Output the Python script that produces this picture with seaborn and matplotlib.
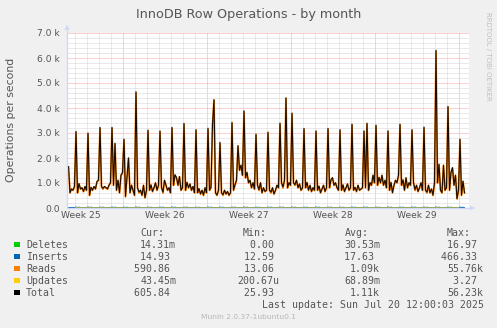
import itertools

import numpy as np
import pandas as pd
import matplotlib
matplotlib.use("Agg")
import matplotlib.pyplot as plt
import matplotlib.dates as mdates
import matplotlib.transforms as mtransforms
from matplotlib.patches import Polygon, Rectangle
import seaborn as sns

sns.set_style("white")
plt.rcParams["font.family"] = ["DejaVu Sans"]

# ---------------------------------------------------------------- data
# 3-hourly samples from Jun 17 11:00 to Jul 20 11:00 (rows = one day,
# slots 02,05,08,11,14,17,20,23 h; first and last rows are partial days)
sample_times = pd.date_range("2025-06-17 11:00", "2025-07-20 11:00", freq="3h")

reads_by_day = [
    [1650, 600, 750, 700, 850],
    [3030, 600, 950, 750, 800, 650, 850, 700],
    [2960, 500, 800, 700, 850, 750, 1050, 1100],
    [3190, 850, 750, 850, 800, 750, 900, 1000],
    [3190, 900, 2560, 700, 1100, 600, 1300, 1400],
    [2720, 450, 1200, 1990, 600, 900, 700, 500],
    [4610, 800, 600, 700, 500, 900, 400, 700],
    [3080, 700, 900, 650, 800, 1000, 700, 900],
    [3050, 800, 600, 1100, 900, 700, 800, 600],
    [3190, 900, 1300, 1200, 900, 1250, 700, 800],
    [3350, 700, 1000, 800, 950, 700, 850, 600],
    [3100, 600, 750, 550, 700, 500, 800, 600],
    [3150, 700, 800, 3320, 4320, 600, 500, 700],
    [2590, 600, 500, 700, 550, 650, 500, 600],
    [3390, 700, 900, 1100, 2480, 1500, 1700, 1300],
    [3850, 1200, 1400, 1000, 1100, 800, 1000, 750],
    [2920, 900, 700, 1000, 600, 800, 650, 700],
    [3000, 700, 600, 800, 550, 700, 900, 800],
    [3360, 1000, 800, 1100, 4390, 800, 1000, 900],
    [3760, 1000, 900, 1100, 800, 950, 700, 800],
    [3150, 800, 1000, 700, 900, 650, 800, 700],
    [3050, 700, 850, 600, 750, 900, 650, 800],
    [3150, 800, 1100, 1200, 900, 1000, 800, 700],
    [3100, 700, 900, 650, 800, 950, 700, 800],
    [3320, 700, 800, 650, 900, 700, 750, 800],
    [3050, 800, 3360, 700, 1000, 900, 1300, 1000],
    [3280, 900, 1200, 1000, 1300, 900, 1100, 800],
    [3050, 700, 1000, 600, 900, 1100, 1000, 1300],
    [3320, 900, 1100, 700, 1200, 800, 1000, 900],
    [3100, 1000, 700, 900, 650, 800, 1000, 700],
    [3200, 700, 600, 900, 600, 750, 500, 1000],
    [6270, 1000, 1720, 700, 600, 1700, 700, 800],
    [4030, 700, 1400, 1600, 900, 1300, 360, 700],
    [2720, 500, 1050, 591],
]

inserts_by_day = [
    [14, 15, 13, 14, 15],
    [38, 14, 33, 15, 14, 13, 15, 14],
    [41, 15, 36, 14, 13, 15, 14, 15],
    [37, 13, 34, 15, 14, 14, 13, 15],
    [40, 14, 35, 13, 15, 14, 15, 14],
    [36, 15, 32, 14, 13, 15, 14, 13],
    [42, 14, 37, 15, 14, 13, 15, 14],
    [39, 13, 33, 14, 15, 14, 13, 15],
    [38, 15, 35, 13, 14, 15, 14, 14],
    [40, 14, 34, 15, 13, 14, 15, 13],
    [37, 15, 36, 14, 15, 13, 14, 15],
    [36, 13, 31, 15, 14, 15, 13, 14],
    [41, 14, 35, 14, 13, 14, 15, 15],
    [38, 15, 33, 13, 15, 14, 14, 13],
    [39, 14, 36, 15, 14, 13, 15, 14],
    [42, 13, 34, 14, 15, 15, 13, 15],
    [37, 15, 32, 15, 13, 14, 14, 14],
    [38, 14, 35, 13, 14, 15, 15, 13],
    [40, 15, 37, 14, 15, 13, 14, 15],
    [39, 13, 33, 15, 14, 14, 13, 14],
    [36, 14, 34, 14, 13, 15, 15, 15],
    [41, 15, 35, 13, 15, 14, 14, 13],
    [38, 14, 36, 15, 14, 13, 15, 14],
    [37, 13, 32, 14, 13, 15, 14, 15],
    [40, 15, 34, 15, 15, 14, 13, 14],
    [39, 14, 37, 13, 14, 15, 15, 13],
    [38, 15, 33, 14, 15, 13, 14, 15],
    [42, 13, 35, 15, 13, 14, 15, 14],
    [37, 14, 34, 14, 15, 15, 13, 15],
    [39, 15, 36, 13, 14, 14, 14, 13],
    [40, 14, 33, 15, 13, 15, 15, 14],
    [41, 13, 35, 14, 15, 13, 14, 15],
    [38, 15, 34, 15, 14, 14, 13, 14],
    [37, 14, 32, 15],
]

reads = list(itertools.chain.from_iterable(reads_by_day))
inserts = list(itertools.chain.from_iterable(inserts_by_day))

# deletes / updates stay far below 1 op/s; daily samples
daily_times = pd.date_range("2025-06-18", "2025-07-20", freq="D")
deletes = [0.02, 0.05, 0.01, 0.03, 0.04, 0.02, 0.06, 0.01, 0.03, 0.02, 0.05,
           0.04, 0.01, 0.03, 0.02, 0.06, 0.03, 0.02, 0.04, 0.01, 0.05, 0.03,
           0.02, 0.04, 0.03, 0.01, 0.02, 0.05, 0.03, 0.04, 0.02, 0.03, 0.01]
updates = [0.07, 0.05, 0.09, 0.06, 0.08, 0.07, 0.05, 0.10, 0.06, 0.07, 0.08,
           0.05, 0.06, 0.09, 0.07, 0.06, 0.08, 0.05, 0.07, 0.09, 0.06, 0.07,
           0.08, 0.05, 0.06, 0.07, 0.09, 0.06, 0.05, 0.08, 0.07, 0.06, 0.04]

total = np.array(reads, dtype=float) + np.array(inserts, dtype=float)

df = pd.DataFrame({"time": sample_times, "reads": reads,
                   "inserts": inserts, "total": total})
df_daily = pd.DataFrame({"time": daily_times, "deletes": deletes,
                         "updates": updates})

series_names = ["Deletes", "Inserts", "Reads", "Updates", "Total"]
series_colors = ["#00CC00", "#0066B3", "#FF8000", "#FFCC00", "#000000"]
cur_vals = ["14.31m", "14.93", "590.86", "43.45m", "605.84"]
min_vals = ["0.00", "12.59", "13.06", "200.67u", "25.93"]
avg_vals = ["30.53m", "17.63", "1.09k", "68.89m", "1.11k"]
max_vals = ["16.97", "466.33", "55.76k", "3.27", "56.23k"]

y_ticks = [0, 1000, 2000, 3000, 4000, 5000, 6000, 7000]
y_tick_labels = ["0.0", "1.0 k", "2.0 k", "3.0 k", "4.0 k", "5.0 k", "6.0 k", "7.0 k"]

title = "InnoDB Row Operations - by month"
y_title = "Operations per second"
last_update = "Last update: Sun Jul 20 12:00:03 2025"
footer = "Munin 2.0.37-1ubuntu0.1"
side_note = "RRDTOOL / TOBI OETIKER"

# ---------------------------------------------------------------- figure
W, H = 497, 328
BG = "#F0F0F0"
FONT_C = "#555555"
fig = plt.figure(figsize=(W / 100, H / 100), dpi=100, facecolor=BG)

left, right, top, bottom = 67, 469, 33, 208
ax = fig.add_axes([left / W, (H - bottom) / H, (right - left) / W, (bottom - top) / H])
ax.set_facecolor("white")

x_start = pd.Timestamp("2025-06-17 08:00")
x_end = pd.Timestamp("2025-07-20 20:00")

# series, drawn in legend order
sns.lineplot(data=df_daily, x="time", y="deletes", ax=ax, color=series_colors[0],
             lw=0.75, estimator=None, legend=False, zorder=3)
sns.lineplot(data=df, x="time", y="inserts", ax=ax, color=series_colors[1],
             lw=0.75, estimator=None, legend=False, zorder=3)
sns.lineplot(data=df, x="time", y="reads", ax=ax, color=series_colors[2],
             lw=1.3, estimator=None, legend=False, zorder=4)
sns.lineplot(data=df_daily, x="time", y="updates", ax=ax, color=series_colors[3],
             lw=0.75, estimator=None, legend=False, zorder=3)
sns.lineplot(data=df, x="time", y="total", ax=ax, color=series_colors[4],
             lw=0.8, alpha=0.9, estimator=None, legend=False, zorder=5)

week_starts = pd.date_range("2025-06-15", "2025-07-20", freq="7D")
ax.set_xticks(week_starts)
ax.set_xticks(pd.date_range("2025-06-17", "2025-07-21", freq="D"), minor=True)
ax.set_yticks(y_ticks)
ax.set_yticklabels(y_tick_labels)
ax.set_yticks(np.arange(0, 7001, 200), minor=True)
# limits after the ticks, so the tick lists do not widen the view
ax.set_xlim(x_start, x_end)
ax.set_ylim(0, 7000)

dots = (0, (1, 1))
ax.grid(which="minor", color="#D4D4D4", ls=dots, lw=0.72, zorder=1)
ax.grid(which="major", color="#F4A4A4", ls=dots, lw=0.72, zorder=2)
ax.set_axisbelow(True)

ax.tick_params(which="both", length=0)
ax.tick_params(axis="x", labelbottom=False)
ax.tick_params(axis="y", labelsize=6.6, labelcolor=FONT_C, pad=5.4)
for s in ax.spines.values():
    s.set_visible(False)
ax.set_xlabel("")
ax.set_ylabel("")

# week labels centred on each week
trans = mtransforms.blended_transform_factory(ax.transData, ax.transAxes)
for ws in week_starts[:-1]:
    mid = ws + pd.Timedelta(days=3.5)
    ax.text(mdates.date2num(mid), -(216 - bottom) / (bottom - top),
            f"Week {mid.isocalendar().week}", transform=trans,
            ha="center", va="center", fontsize=6.6, color=FONT_C, clip_on=False)

# ---------------------------------------------------------------- overlay (pixel coords)
ov = fig.add_axes([0, 0, 1, 1], facecolor="none", zorder=10)
ov.set_xlim(0, W)
ov.set_ylim(H, 0)
ov.axis("off")

AXIS_C = "#CFD6F8"
ov.plot([left, right + 1], [bottom, bottom], color=AXIS_C, lw=0.9, solid_capstyle="butt")
ov.plot([left, left], [bottom, top - 3], color=AXIS_C, lw=0.9, solid_capstyle="butt")
ov.add_patch(Polygon([[right + 1, bottom - 2.5], [right + 1, bottom + 2.5], [right + 6, bottom]],
                     closed=True, color=AXIS_C, lw=0))
ov.add_patch(Polygon([[left - 2.5, top - 3], [left + 2.5, top - 3], [left, top - 8]],
                     closed=True, color=AXIS_C, lw=0))

ov.text(248.5, 18.4, title, ha="center", va="baseline", fontsize=9.2, color=FONT_C)
ov.text(11, 120, y_title, ha="center", va="center", rotation=90, fontsize=7.8, color=FONT_C)
ov.text(488, 56, side_note, ha="center", va="center", rotation=270, fontsize=5.0,
        color="#C0C0C0")

# legend table
MONO = "DejaVu Sans Mono"
mono_size = 7.13
cw = mono_size * 100 / 72 * 0.602
row_y = [244.3, 256.3, 268.3, 280.3, 292.3]
header_y = 232.7
col_right = [176, 279.5, 380, 483]
headers = ["Cur:", "Min:", "Avg:", "Max:"]
header_x = [140, 243, 345, 447]

for hx, htxt in zip(header_x, headers):
    ov.text(hx, header_y + 3.5, htxt, ha="left", va="baseline", family=MONO,
            fontsize=mono_size, color=FONT_C)

columns = [cur_vals, min_vals, avg_vals, max_vals]
for i, (name, col) in enumerate(zip(series_names, series_colors)):
    yc = row_y[i]
    ov.add_patch(Rectangle((14, yc - 2.75), 5.5, 5.5, facecolor=col, edgecolor="none"))
    ov.text(26, yc + 3.5, name, ha="left", va="baseline", family=MONO,
            fontsize=mono_size, color=FONT_C)
    for cr, vals in zip(col_right, columns):
        s = vals[i]
        if not s[-1].isalpha():
            s = s + " "
        ov.text(cr - len(s) * cw, yc + 3.5, s, ha="left", va="baseline",
                family=MONO, fontsize=mono_size, color=FONT_C)

ov.text(483 - len(last_update) * cw, 304.3 + 3.5, last_update, ha="left",
        va="baseline", family=MONO, fontsize=mono_size, color=FONT_C)
ov.text(248.5, 317.3, footer, ha="center", va="center", fontsize=5.4, color="#B8B8B8")

fig.savefig("out.png", dpi=100, facecolor=BG)
